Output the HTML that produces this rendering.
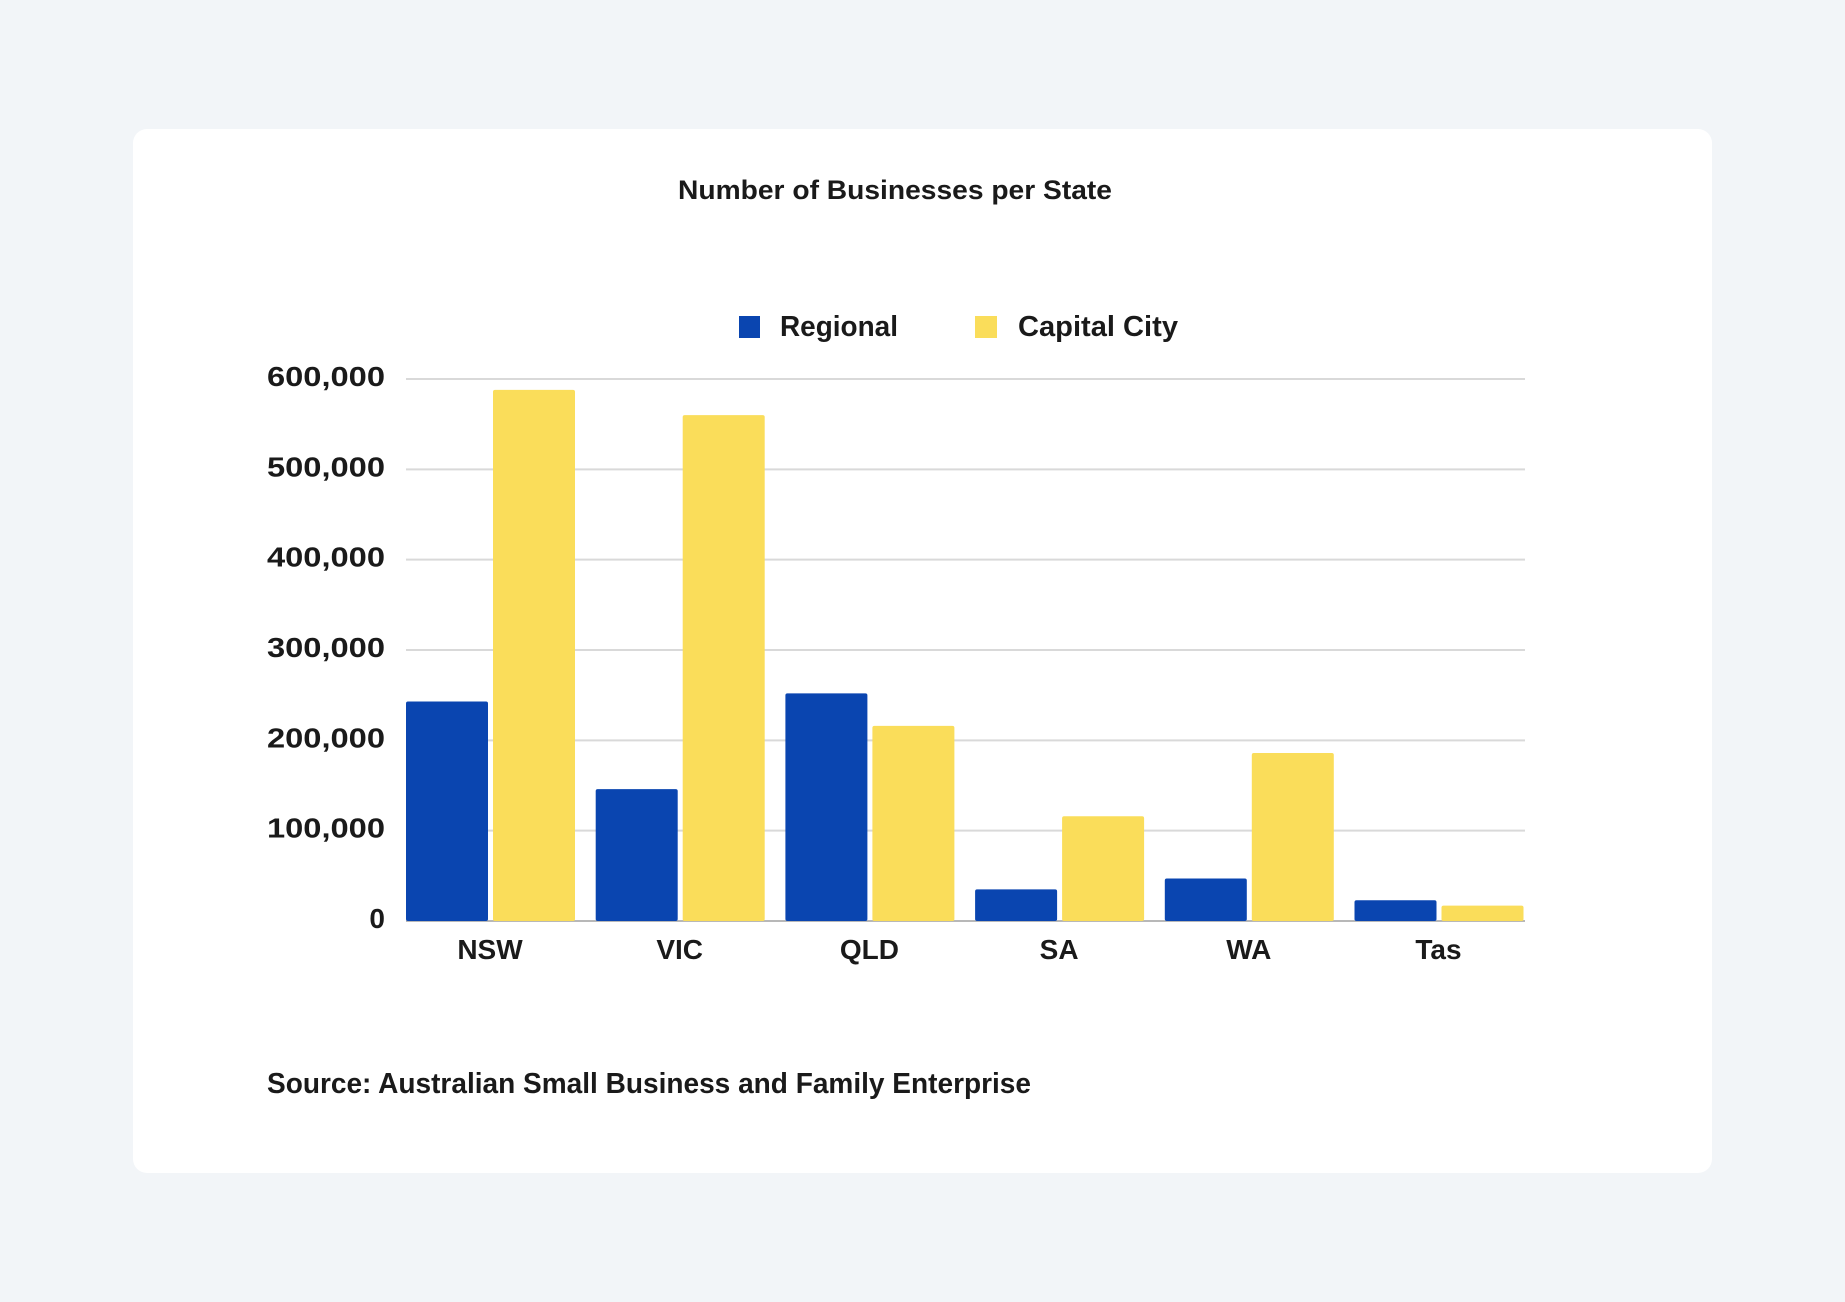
<!DOCTYPE html>
<html><head><meta charset="utf-8"><style>
html,body{margin:0;padding:0;background:#f2f5f8;}
svg{display:block;font-family:"Liberation Sans",sans-serif;font-weight:bold;}
</style></head><body>
<svg width="1845" height="1302" viewBox="0 0 1845 1302">
<rect x="0" y="0" width="1845" height="1302" fill="#f2f5f8"/>
<rect x="133" y="129" width="1579" height="1044" rx="14" fill="#ffffff"/>
<text x="895" y="199" text-anchor="middle" font-size="27" fill="#1a1a1a" textLength="434" lengthAdjust="spacingAndGlyphs">Number of Businesses per State</text>
<g>
<rect x="739" y="316" width="21" height="22" fill="#0a45b0"/>
<text x="780" y="336" font-size="29" fill="#1a1a1a" textLength="118" lengthAdjust="spacingAndGlyphs">Regional</text>
<rect x="975" y="316" width="22" height="22" fill="#fadd5a"/>
<text x="1018" y="336" font-size="29" fill="#1a1a1a" textLength="160" lengthAdjust="spacingAndGlyphs">Capital City</text>
</g>
<g id="grid"></g>
<g id="bars"></g>
<g id="xl"></g>
<text x="267" y="1093" font-size="29" fill="#1a1a1a" textLength="764" lengthAdjust="spacingAndGlyphs">Source: Australian Small Business and Family Enterprise</text>
</svg>
<script>
const categories=["NSW","VIC","QLD","SA","WA","Tas"];
const regional=[243000,146000,252000,35000,47000,23000];
const capital=[588000,560000,216000,116000,186000,17000];
const ticks=[0,100000,200000,300000,400000,500000,600000];
const tickLabels=["0","100,000","200,000","300,000","400,000","500,000","600,000"];
const NS="http://www.w3.org/2000/svg";
const x0=406,x1=1525,yTop=379,yBot=921,maxV=600000,step=189.7,bw=82;
function y(v){return yBot-(v/maxV)*(yBot-yTop);}
function gx(i){return x0+i*step;}
function mk(t,a,p){const e=document.createElementNS(NS,t);for(const k in a)e.setAttribute(k,a[k]);p.appendChild(e);return e;}
const grid=document.getElementById('grid');
ticks.forEach((t,i)=>{
  const l=mk('line',{x1:x0,x2:x1,y1:y(t),y2:y(t),stroke:i==0?'#b8b8b8':'#d9d9d9','stroke-width':2},grid);
  
  
  const attrs={x:385,y:y(t)+7,'text-anchor':'end','font-size':28,fill:'#1a1a1a'};
  if(tickLabels[i].length>3){attrs.textLength=118;attrs.lengthAdjust='spacingAndGlyphs';}
  const tx=mk('text',attrs,grid);
  tx.textContent=tickLabels[i];
  
  
});
const bars=document.getElementById('bars');
const xl=document.getElementById('xl');
categories.forEach((c,i)=>{
  const b1=mk('rect',{x:gx(i),y:y(regional[i]),width:bw,height:yBot-y(regional[i]),fill:'#0a45b0',rx:2},bars);
  
  
  const b2=mk('rect',{x:gx(i)+87,y:y(capital[i]),width:bw,height:yBot-y(capital[i]),fill:'#fadd5a',rx:2},bars);
  
  
  const t=mk('text',{x:gx(i)+84,y:959,'text-anchor':'middle','font-size':28,fill:'#1a1a1a'},xl);
  t.textContent=c;
  
  
});
</script>
</body></html>
